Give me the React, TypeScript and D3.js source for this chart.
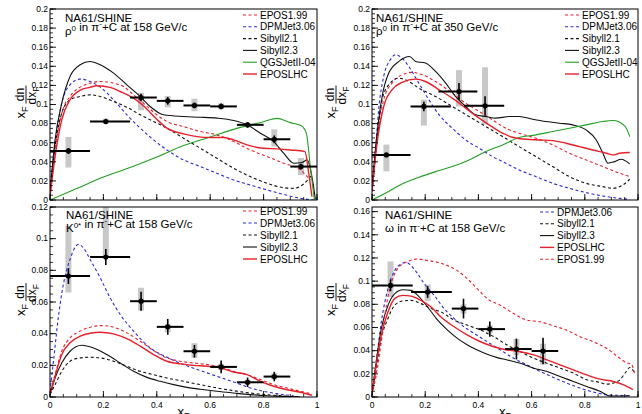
import React from 'react';
import * as d3 from 'd3';

type Pt = [number, number];

// ---------- rho0 in pi-+C at 158 GeV/c ----------
const rho158Epos199: Pt[] = [[0,0.0035],[0.019,0.0524],[0.044,0.0909],[0.075,0.1084],[0.113,0.1182],[0.15,0.1224],[0.188,0.1241],[0.238,0.1224],[0.275,0.1189],[0.313,0.1101],[0.35,0.1014],[0.4,0.0892],[0.438,0.0822],[0.5,0.0769],[0.563,0.0717],[0.625,0.0682],[0.688,0.0612],[0.75,0.0524],[0.813,0.0455],[0.875,0.0385],[0.938,0.0315],[0.975,0.021]];
const rho158Dpm: Pt[] = [[0,0.007],[0.019,0.0594],[0.044,0.1014],[0.075,0.1206],[0.113,0.1266],[0.15,0.1241],[0.188,0.1182],[0.238,0.1049],[0.288,0.0892],[0.338,0.0752],[0.388,0.0629],[0.438,0.0524],[0.5,0.042],[0.563,0.035],[0.625,0.028],[0.688,0.021],[0.75,0.0157],[0.813,0.0105],[0.875,0.0059],[0.938,0.0017],[0.988,0]];
const rho158Sib21: Pt[] = [[0,0.007],[0.019,0.0559],[0.044,0.0909],[0.075,0.1049],[0.113,0.1084],[0.15,0.1101],[0.188,0.1084],[0.238,0.1031],[0.288,0.0972],[0.338,0.0892],[0.388,0.0822],[0.438,0.0752],[0.5,0.0647],[0.563,0.0542],[0.625,0.0437],[0.688,0.0332],[0.75,0.0245],[0.813,0.0175],[0.875,0.0129],[0.913,0.0122],[0.95,0.0168],[0.981,0.0262]];
const rho158Sib23: Pt[] = [[0,0.007],[0.019,0.0629],[0.044,0.1014],[0.075,0.1294],[0.113,0.1416],[0.15,0.1451],[0.188,0.1416],[0.238,0.1329],[0.288,0.1206],[0.338,0.1084],[0.375,0.0979],[0.425,0.0892],[0.5,0.0874],[0.563,0.0867],[0.625,0.0857],[0.688,0.0832],[0.738,0.0787],[0.788,0.0699],[0.838,0.0612],[0.875,0.049],[0.913,0.0385],[0.944,0.0392],[0.963,0.042],[0.981,0.0245],[0.994,0.0007]];
const rho158Qgs: Pt[] = [[0,0],[0.05,0.006],[0.1,0.012],[0.2,0.024],[0.3,0.034],[0.4,0.045],[0.5,0.057],[0.6,0.066],[0.7,0.075],[0.8,0.082],[0.85,0.0855],[0.9,0.081],[0.94,0.078],[0.96,0.07],[0.975,0.035],[0.99,0]];
const rho158EposLhc: Pt[] = [[0,0.0035],[0.019,0.0455],[0.044,0.084],[0.075,0.105],[0.113,0.115],[0.15,0.118],[0.175,0.1196],[0.225,0.118],[0.263,0.1136],[0.313,0.1066],[0.35,0.0986],[0.4,0.0846],[0.438,0.0752],[0.5,0.0692],[0.55,0.0664],[0.6,0.0654],[0.65,0.0654],[0.688,0.063],[0.738,0.0577],[0.8,0.0542],[0.85,0.0535],[0.9,0.0524],[0.955,0.0507],[0.969,0.028],[0.981,0.0035]];

const rho158X = [0.069, 0.209, 0.341, 0.441, 0.541, 0.641, 0.74, 0.84, 0.94];
const rho158Y = [0.0514, 0.0822, 0.1073, 0.1038, 0.099, 0.098, 0.0787, 0.0636, 0.035];
const rho158XLo = [0, 0.15, 0.3, 0.4, 0.5, 0.6, 0.7, 0.8, 0.9];
const rho158XHi = [0.15, 0.3, 0.4, 0.5, 0.6, 0.7, 0.8, 0.9, 1.0];
const rho158Stat = [0.003, 0.003, 0.004, 0.004, 0.003, 0.003, 0.003, 0.004, 0.003];
const rho158SysLo = [0.034, 0.080, 0.094, 0.097, 0.093, 0.095, 0.076, 0.056, 0.026];
const rho158SysHi = [0.066, 0.085, 0.112, 0.109, 0.106, 0.101, 0.081, 0.074, 0.044];

// ---------- rho0 in pi-+C at 350 GeV/c ----------
const rho350Epos199: Pt[] = [[0,0.0087],[0.019,0.0629],[0.044,0.1049],[0.075,0.1224],[0.113,0.1311],[0.151,0.1336],[0.189,0.1311],[0.239,0.1241],[0.302,0.1119],[0.352,0.1014],[0.403,0.0927],[0.453,0.0839],[0.503,0.0752],[0.553,0.0699],[0.616,0.0647],[0.679,0.0577],[0.742,0.049],[0.805,0.042],[0.868,0.035],[0.931,0.028],[0.969,0.0245]];
const rho350Dpm: Pt[] = [[0,0.0035],[0.013,0.049],[0.025,0.0944],[0.044,0.1294],[0.069,0.1469],[0.088,0.1521],[0.113,0.1486],[0.138,0.1399],[0.176,0.1224],[0.214,0.1049],[0.252,0.0892],[0.302,0.0752],[0.352,0.0629],[0.403,0.0542],[0.453,0.0455],[0.503,0.0385],[0.553,0.0315],[0.616,0.0245],[0.679,0.0175],[0.742,0.0122],[0.805,0.0077],[0.868,0.0042],[0.931,0.0017],[0.969,0.0007]];
const rho350Sib21: Pt[] = [[0,0.0105],[0.019,0.0629],[0.038,0.1049],[0.063,0.1206],[0.101,0.1276],[0.138,0.1241],[0.176,0.1171],[0.239,0.1084],[0.302,0.0979],[0.365,0.0874],[0.428,0.0769],[0.491,0.0664],[0.553,0.0559],[0.616,0.0455],[0.679,0.035],[0.742,0.0245],[0.805,0.0175],[0.868,0.014],[0.906,0.0122],[0.943,0.0157],[0.969,0.0217]];
const rho350Sib23: Pt[] = [[0,0.014],[0.019,0.0699],[0.038,0.1084],[0.063,0.1329],[0.101,0.1451],[0.141,0.1503],[0.164,0.1451],[0.201,0.1434],[0.239,0.1346],[0.277,0.1224],[0.314,0.1084],[0.352,0.0979],[0.39,0.0892],[0.428,0.0874],[0.465,0.0857],[0.516,0.0874],[0.553,0.0874],[0.604,0.0846],[0.654,0.0822],[0.704,0.0804],[0.755,0.0787],[0.805,0.0734],[0.843,0.0629],[0.868,0.049],[0.887,0.0385],[0.912,0.0402],[0.937,0.0427],[0.969,0.0378]];
const rho350Qgs: Pt[] = [[0,0],[0.05,0.007],[0.113,0.0168],[0.176,0.0238],[0.239,0.0297],[0.302,0.035],[0.365,0.042],[0.428,0.0507],[0.491,0.0577],[0.553,0.0654],[0.616,0.0682],[0.679,0.0717],[0.742,0.0752],[0.805,0.0787],[0.868,0.0822],[0.906,0.0832],[0.95,0.0776],[0.969,0.0664]];
const rho350EposLhc: Pt[] = [[0,0.0087],[0.019,0.0594],[0.044,0.0979],[0.075,0.1154],[0.113,0.1231],[0.164,0.1266],[0.201,0.1241],[0.252,0.1154],[0.302,0.1066],[0.352,0.0962],[0.403,0.0857],[0.44,0.0787],[0.491,0.0699],[0.528,0.0657],[0.579,0.0636],[0.629,0.0629],[0.679,0.0622],[0.73,0.0594],[0.78,0.0559],[0.83,0.0524],[0.881,0.049],[0.906,0.0472],[0.931,0.049],[0.969,0.0497]];

const rho350X = [0.054, 0.195, 0.327, 0.425];
const rho350Y = [0.0472, 0.098, 0.1136, 0.0986];
const rho350XLo = [0, 0.145, 0.25, 0.346];
const rho350XHi = [0.145, 0.296, 0.396, 0.497];
const rho350Stat = [0.002, 0.005, 0.009, 0.01];
const rho350SysLo = [0.03, 0.078, 0.098, 0.079];
const rho350SysHi = [0.058, 0.105, 0.136, 0.139];

// ---------- K0* in pi-+C at 158 GeV/c ----------
const kst158Epos199: Pt[] = [[0,0.0015],[0.019,0.0141],[0.044,0.0289],[0.075,0.0373],[0.113,0.0416],[0.15,0.0441],[0.194,0.0451],[0.238,0.0441],[0.288,0.0405],[0.338,0.0352],[0.388,0.0293],[0.438,0.0247],[0.488,0.0226],[0.538,0.0215],[0.588,0.0205],[0.638,0.019],[0.688,0.0162],[0.738,0.0141],[0.788,0.011],[0.838,0.0078],[0.888,0.0057],[0.938,0.0036],[0.981,0.0019]];
const kst158Dpm: Pt[] = [[0,0.0036],[0.013,0.0226],[0.031,0.05],[0.05,0.0711],[0.075,0.0869],[0.106,0.0964],[0.125,0.0943],[0.15,0.0869],[0.188,0.0753],[0.225,0.0627],[0.263,0.0521],[0.313,0.0416],[0.375,0.031],[0.438,0.0251],[0.5,0.0205],[0.563,0.0167],[0.625,0.0131],[0.688,0.0095],[0.75,0.0057],[0.813,0.0032],[0.875,0.0015],[0.913,0.0008]];
const kst158Sib21: Pt[] = [[0,0.0015],[0.019,0.0078],[0.044,0.0162],[0.075,0.0226],[0.113,0.0247],[0.15,0.0251],[0.188,0.0247],[0.238,0.0226],[0.288,0.0194],[0.338,0.0162],[0.388,0.0141],[0.438,0.012],[0.5,0.0099],[0.563,0.0078],[0.625,0.0057],[0.688,0.004],[0.75,0.0025],[0.813,0.0015],[0.875,0.0006],[0.938,0]];
const kst158Sib23: Pt[] = [[0,0.0015],[0.019,0.012],[0.044,0.0215],[0.075,0.0289],[0.119,0.0327],[0.163,0.031],[0.213,0.0268],[0.263,0.0215],[0.313,0.0162],[0.363,0.0124],[0.413,0.0099],[0.463,0.0078],[0.513,0.0061],[0.563,0.0049],[0.625,0.0036],[0.688,0.0025],[0.75,0.0015],[0.813,0.0008],[0.875,0.0004],[0.938,0]];
const kst158EposLhc: Pt[] = [[0,0.0015],[0.019,0.0131],[0.044,0.0268],[0.075,0.0342],[0.113,0.0384],[0.15,0.0403],[0.188,0.0409],[0.238,0.0399],[0.288,0.0369],[0.338,0.0321],[0.388,0.0268],[0.438,0.0226],[0.488,0.0209],[0.538,0.02],[0.588,0.0194],[0.638,0.0184],[0.688,0.0158],[0.738,0.0141],[0.788,0.0099],[0.838,0.0068],[0.888,0.0046],[0.938,0.003],[0.981,0.0011]];

const kst158X = [0.069, 0.209, 0.341, 0.441, 0.541, 0.641, 0.74, 0.84];
const kst158Y = [0.0764, 0.0884, 0.0605, 0.0443, 0.0289, 0.019, 0.0093, 0.0129];
const kst158XLo = [0, 0.15, 0.3, 0.4, 0.5, 0.6, 0.7, 0.8];
const kst158XHi = [0.15, 0.3, 0.4, 0.5, 0.6, 0.7, 0.8, 0.9];
const kst158Stat = [0.005, 0.005, 0.006, 0.005, 0.004, 0.004, 0.003, 0.003];
const kst158SysLo = [0.066, 0.088, 0.0546, 0.041, 0.0247, 0.017, 0.008, 0.011];
const kst158SysHi = [0.108, 0.125, 0.069, 0.046, 0.034, 0.021, 0.011, 0.015];

// ---------- omega in pi-+C at 158 GeV/c ----------
const omg158Dpm: Pt[] = [[0,0.002],[0.016,0.0306],[0.035,0.0649],[0.06,0.0934],[0.085,0.1091],[0.11,0.1149],[0.128,0.1163],[0.147,0.1134],[0.172,0.1063],[0.197,0.0977],[0.234,0.0877],[0.271,0.0763],[0.309,0.0677],[0.346,0.0606],[0.384,0.0549],[0.433,0.0477],[0.483,0.0406],[0.533,0.0334],[0.583,0.0277],[0.633,0.022],[0.682,0.0169],[0.732,0.012],[0.782,0.0077],[0.832,0.0043],[0.882,0.002],[0.932,0.0014],[0.969,0.0011]];
const omg158Sib21: Pt[] = [[0,0.002],[0.016,0.0249],[0.035,0.0506],[0.06,0.0677],[0.085,0.0791],[0.116,0.0829],[0.147,0.0834],[0.184,0.0806],[0.222,0.0763],[0.259,0.0734],[0.309,0.0663],[0.359,0.062],[0.408,0.0577],[0.458,0.052],[0.508,0.0449],[0.558,0.0391],[0.608,0.0334],[0.658,0.0291],[0.707,0.0249],[0.757,0.0206],[0.807,0.0149],[0.857,0.0126],[0.882,0.0111],[0.907,0.012],[0.932,0.0149],[0.956,0.022],[0.969,0.0254],[0.988,0.0206]];
const omg158Sib23: Pt[] = [[0,0.002],[0.016,0.0306],[0.035,0.0591],[0.06,0.0791],[0.085,0.0891],[0.116,0.0926],[0.147,0.092],[0.172,0.0877],[0.209,0.0777],[0.247,0.0663],[0.284,0.0577],[0.321,0.0506],[0.359,0.0449],[0.396,0.0406],[0.433,0.0369],[0.471,0.034],[0.508,0.032],[0.558,0.0291],[0.608,0.0249],[0.658,0.022],[0.707,0.0177],[0.757,0.0134],[0.807,0.0091],[0.857,0.0049],[0.894,0.0009],[0.932,0.0009],[0.969,0.0011]];
const omg158EposLhc: Pt[] = [[0,0.002],[0.016,0.0277],[0.035,0.0534],[0.06,0.0734],[0.085,0.0849],[0.116,0.0877],[0.147,0.0871],[0.184,0.0834],[0.222,0.0777],[0.259,0.0691],[0.309,0.0606],[0.359,0.0534],[0.408,0.0477],[0.458,0.0434],[0.508,0.0406],[0.558,0.0391],[0.608,0.0363],[0.658,0.032],[0.707,0.0277],[0.757,0.0234],[0.807,0.0191],[0.857,0.0154],[0.907,0.0134],[0.944,0.0106],[0.981,0.0063]];
const omg158Epos199: Pt[] = [[0,0.002],[0.016,0.0191],[0.035,0.0477],[0.054,0.0791],[0.072,0.0977],[0.097,0.1111],[0.134,0.1169],[0.172,0.1191],[0.209,0.1177],[0.247,0.1163],[0.284,0.1134],[0.321,0.1091],[0.359,0.102],[0.396,0.0934],[0.433,0.0849],[0.483,0.0791],[0.533,0.072],[0.583,0.0663],[0.633,0.0649],[0.682,0.0614],[0.732,0.0577],[0.782,0.052],[0.832,0.0477],[0.882,0.042],[0.932,0.0334],[0.956,0.0297],[0.975,0.0283],[0.988,0.019]];

const omg158X = [0.0697, 0.209, 0.344, 0.443, 0.543, 0.643];
const omg158Y = [0.0963, 0.0906, 0.0763, 0.0586, 0.0414, 0.0397];
const omg158XLo = [0, 0.147, 0.3, 0.4, 0.5, 0.6];
const omg158XHi = [0.153, 0.3, 0.4, 0.5, 0.6, 0.7];
const omg158Stat = [0.005, 0.005, 0.0085, 0.0065, 0.009, 0.0115];
const omg158SysLo = [0.0863, 0.083, 0.072, 0.055, 0.036, 0.028];
const omg158SysHi = [0.117, 0.097, 0.08, 0.062, 0.05, 0.046];

const RED = '#e8202a';
const BLUE = '#2a2ad8';
const GREEN = '#22a022';
const BLACK = '#111';
const DASH = '3,2.5';

const styles: Record<string, { color: string; dash?: string; width: number }> = {
  'EPOS1.99': { color: RED, dash: DASH, width: 1.1 },
  'DPMJet3.06': { color: BLUE, dash: DASH, width: 1.1 },
  'Sibyll2.1': { color: BLACK, dash: DASH, width: 1.1 },
  'Sibyll2.3': { color: BLACK, width: 1.1 },
  'QGSJetII-04': { color: GREEN, width: 1.1 },
  'EPOSLHC': { color: RED, width: 1.4 },
};

const FONT = '"Liberation Sans", Arial, Helvetica, sans-serif';

type PanelDef = {
  id: string;
  x0: number; x1: number; yTop: number; yBot: number; yMax: number;
  xLabels: boolean;
  models: [string, Pt[]][];
  legendX: number; legendY: number; legendStep: number;
  headX: number; headY: number;
  particle: React.ReactNode;
  energy: string;
  px: number[]; py: number[]; pxLo: number[]; pxHi: number[];
  stat: number[]; sysLo: number[]; sysHi: number[];
  titleX: number;
};

const fmt = (v: number) => String(+v.toFixed(3));

function Panel({ p }: { p: PanelDef }) {
  const x = d3.scaleLinear().domain([0, 1]).range([p.x0, p.x1]);
  const y = d3.scaleLinear().domain([0, p.yMax]).range([p.yBot, p.yTop]);
  const line = d3.line<Pt>().x(d => x(d[0])).y(d => y(d[1])).curve(d3.curveMonotoneX);
  const yMajor = d3.range(0, p.yMax + 1e-6, 0.02);
  const yMinor = d3.range(0, p.yMax + 1e-6, 0.005);
  const xMajor = d3.range(0, 1.0001, 0.2);
  const xMinor = d3.range(0, 1.0001, 0.05);
  const clip = `clip-${p.id}`;
  const cy = (p.yTop + p.yBot) / 2;

  return (
    <g>
      <defs>
        <clipPath id={clip}>
          <rect x={p.x0} y={p.yTop} width={p.x1 - p.x0} height={p.yBot - p.yTop} />
        </clipPath>
      </defs>

      {/* systematic boxes */}
      <g clipPath={`url(#${clip})`}>
        {p.px.map((v, i) => (
          <rect key={i} x={x(v) - 3} width={6} y={y(p.sysHi[i])}
            height={y(p.sysLo[i]) - y(p.sysHi[i])} fill="#c8c8c8" />
        ))}
      </g>

      {/* model curves */}
      <g clipPath={`url(#${clip})`} fill="none">
        {p.models.map(([name, d]) => {
          const s = styles[name];
          return <path key={name} d={line(d) || ''} stroke={s.color}
            strokeWidth={s.width} strokeDasharray={s.dash} />;
        })}
      </g>

      {/* data points */}
      <g clipPath={`url(#${clip})`}>
        {p.px.map((v, i) => (
          <g key={i}>
            <line x1={x(p.pxLo[i])} x2={x(p.pxHi[i])} y1={y(p.py[i])} y2={y(p.py[i])}
              stroke="#000" strokeWidth={2} />
            <line x1={x(v)} x2={x(v)} y1={y(p.py[i] - p.stat[i])} y2={y(p.py[i] + p.stat[i])}
              stroke="#000" strokeWidth={1.6} />
            <circle cx={x(v)} cy={y(p.py[i])} r={2.6} fill="#000" />
          </g>
        ))}
      </g>

      {/* frame */}
      <rect x={p.x0} y={p.yTop} width={p.x1 - p.x0} height={p.yBot - p.yTop}
        fill="none" stroke="#000" strokeWidth={1} />

      {/* y axis ticks */}
      {yMinor.map((v, i) => (
        <line key={'ym' + i} x1={p.x0} x2={p.x0 + 3} y1={y(v)} y2={y(v)} stroke="#000" strokeWidth={0.8} />
      ))}
      {yMajor.map((v, i) => (
        <g key={'yM' + i}>
          <line x1={p.x0} x2={p.x0 + 6} y1={y(v)} y2={y(v)} stroke="#000" strokeWidth={0.9} />
          <text x={p.x0 - 2} y={y(v)} dy="0.33em" textAnchor="end" fontSize={8.5}
            fontFamily={FONT} fill="#000">{fmt(v)}</text>
        </g>
      ))}

      {/* x axis ticks */}
      {xMinor.map((v, i) => (
        <line key={'xm' + i} x1={x(v)} x2={x(v)} y1={p.yBot} y2={p.yBot - 3} stroke="#000" strokeWidth={0.8} />
      ))}
      {xMajor.map((v, i) => (
        <g key={'xM' + i}>
          <line x1={x(v)} x2={x(v)} y1={p.yBot} y2={p.yBot - 6} stroke="#000" strokeWidth={0.9} />
          {p.xLabels && (
            <text x={x(v)} y={p.yBot + 11} textAnchor="middle" fontSize={8.5}
              fontFamily={FONT} fill="#000">{fmt(v)}</text>
          )}
        </g>
      ))}

      {/* x title, cut by the bottom edge as in the original */}
      {p.xLabels && (
        <text x={x(0.5)} y={416} textAnchor="middle" fontSize={13} fontFamily={FONT}>
          x<tspan fontSize={9} dy={3}>F</tspan>
        </text>
      )}

      {/* y title: x_F dn/dx_F */}
      <g transform={`translate(${p.titleX},${cy}) rotate(-90)`} fontFamily={FONT} fill="#000">
        <text x={-2} y={-1} textAnchor="end" fontSize={13}>
          x<tspan fontSize={9} dy={3}>F</tspan>
        </text>
        <text x={10} y={-2} textAnchor="middle" fontSize={12}>dn</text>
        <line x1={1} x2={19} y1={0} y2={0} stroke="#000" strokeWidth={0.9} />
        <text x={9} y={10} textAnchor="middle" fontSize={12}>
          dx<tspan fontSize={8.5} dy={2.5}>F</tspan>
        </text>
      </g>

      {/* header */}
      <text x={p.headX} y={p.headY} fontSize={11.5} fontFamily={FONT}>NA61/SHINE</text>
      <text x={p.headX} y={p.headY + 13} fontSize={11.5} fontFamily={FONT}>
        {p.particle}
        <tspan> in π</tspan>
        <tspan dy={-4.5} fontSize={8}>-</tspan>
        <tspan dy={4.5}>+C at {p.energy} GeV/c</tspan>
      </text>

      {/* legend */}
      {p.models.map(([name], i) => {
        const s = styles[name];
        const ly = p.legendY + i * p.legendStep;
        return (
          <g key={'lg' + name}>
            <line x1={p.legendX} x2={p.legendX + 14} y1={ly} y2={ly} stroke={s.color}
              strokeWidth={s.width} strokeDasharray={s.dash} />
            <text x={p.legendX + 17} y={ly + 3.6} fontSize={10} fontFamily={FONT}>{name}</text>
          </g>
        );
      })}
    </g>
  );
}

const sup = (base: string, s: string) => (
  <>
    <tspan>{base}</tspan>
    <tspan dy={-4.5} fontSize={8}>{s}</tspan>
    <tspan dy={4.5}>{''}</tspan>
  </>
);

const panels: PanelDef[] = [
  {
    id: 'rho158', x0: 50, x1: 317, yTop: 9, yBot: 200, yMax: 0.2, xLabels: false,
    models: [['EPOS1.99', rho158Epos199], ['DPMJet3.06', rho158Dpm], ['Sibyll2.1', rho158Sib21],
      ['Sibyll2.3', rho158Sib23], ['QGSJetII-04', rho158Qgs], ['EPOSLHC', rho158EposLhc]],
    legendX: 243, legendY: 15, legendStep: 11.8, headX: 65, headY: 22,
    particle: sup('ρ', '0'), energy: '158',
    px: rho158X, py: rho158Y, pxLo: rho158XLo, pxHi: rho158XHi, stat: rho158Stat,
    sysLo: rho158SysLo, sysHi: rho158SysHi, titleX: 26,
  },
  {
    id: 'rho350', x0: 372, x1: 638, yTop: 9, yBot: 200, yMax: 0.2, xLabels: false,
    models: [['EPOS1.99', rho350Epos199], ['DPMJet3.06', rho350Dpm], ['Sibyll2.1', rho350Sib21],
      ['Sibyll2.3', rho350Sib23], ['QGSJetII-04', rho350Qgs], ['EPOSLHC', rho350EposLhc]],
    legendX: 565, legendY: 15, legendStep: 11.8, headX: 376, headY: 22,
    particle: sup('ρ', '0'), energy: '350',
    px: rho350X, py: rho350Y, pxLo: rho350XLo, pxHi: rho350XHi, stat: rho350Stat,
    sysLo: rho350SysLo, sysHi: rho350SysHi, titleX: 336,
  },
  {
    id: 'kst158', x0: 50, x1: 317, yTop: 207, yBot: 397, yMax: 0.12, xLabels: true,
    models: [['EPOS1.99', kst158Epos199], ['DPMJet3.06', kst158Dpm], ['Sibyll2.1', kst158Sib21],
      ['Sibyll2.3', kst158Sib23], ['EPOSLHC', kst158EposLhc]],
    legendX: 243, legendY: 211, legendStep: 12, headX: 66, headY: 219,
    particle: sup('K', '0*'), energy: '158',
    px: kst158X, py: kst158Y, pxLo: kst158XLo, pxHi: kst158XHi, stat: kst158Stat,
    sysLo: kst158SysLo, sysHi: kst158SysHi, titleX: 26,
  },
  {
    id: 'omg158', x0: 372, x1: 638, yTop: 207, yBot: 397, yMax: 0.164, xLabels: true,
    models: [['DPMJet3.06', omg158Dpm], ['Sibyll2.1', omg158Sib21], ['Sibyll2.3', omg158Sib23],
      ['EPOSLHC', omg158EposLhc], ['EPOS1.99', omg158Epos199]],
    legendX: 540, legendY: 212, legendStep: 11.8, headX: 385, headY: 219,
    particle: <tspan>ω</tspan>, energy: '158',
    px: omg158X, py: omg158Y, pxLo: omg158XLo, pxHi: omg158XHi, stat: omg158Stat,
    sysLo: omg158SysLo, sysHi: omg158SysHi, titleX: 336,
  },
];

export default function App() {
  return (
    <svg width={642} height={414} style={{ position: 'absolute', left: 0, top: 0, background: '#fff' }}>
      <rect width={642} height={414} fill="#fff" />
      {panels.map(p => <Panel key={p.id} p={p} />)}
    </svg>
  );
}
